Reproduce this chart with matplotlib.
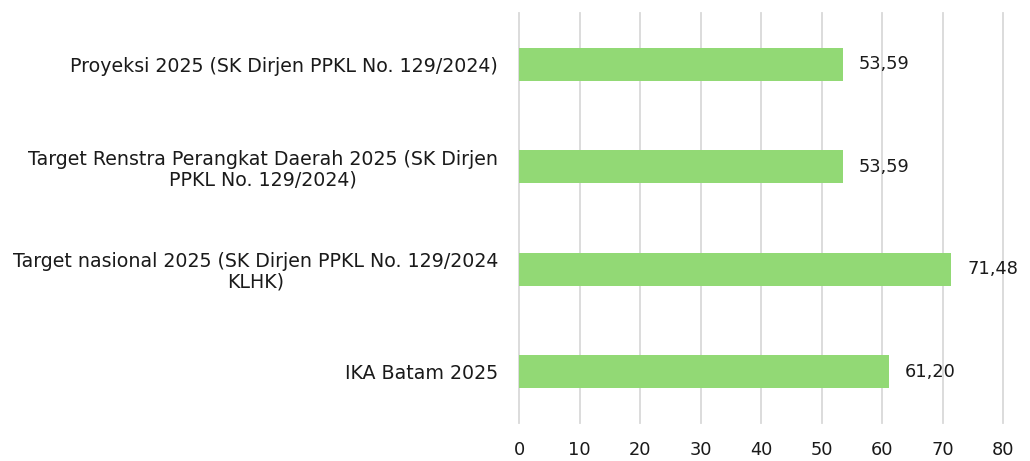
import matplotlib
matplotlib.use("Agg")
import matplotlib.pyplot as plt

categories = [
    "IKA Batam 2025",
    "Target nasional 2025 (SK Dirjen PPKL No. 129/2024\nKLHK)",
    "Target Renstra Perangkat Daerah 2025 (SK Dirjen\nPPKL No. 129/2024)",
    "Proyeksi 2025 (SK Dirjen PPKL No. 129/2024)",
]
values = [61.20, 71.48, 53.59, 53.59]
xticks = [0, 10, 20, 30, 40, 50, 60, 70, 80]

plt.rcParams['font.family'] = ['DejaVu Sans']

fig = plt.figure(figsize=(10.30, 4.61), dpi=100)
ax = fig.add_axes([0.5039, 0.0824, 0.4699, 0.8894])

pos = list(range(len(categories)))
ax.barh(pos, values, height=0.32, color="#92D975", zorder=2)

for y, v in zip(pos, values):
    ax.text(v + 2.6, y, f"{v:.2f}".replace(".", ","), va="center", ha="left",
            fontsize=12.8, color="#1a1a1a")

ax.set_xlim(0, 80)
ax.set_ylim(-0.5, len(categories) - 0.5)
ax.set_xticks(xticks)
ax.set_xticklabels([str(t) for t in xticks], fontsize=12.8, color="#1a1a1a")
ax.set_yticks(pos)
ax.set_yticklabels(categories, fontsize=13.7, color="#1a1a1a", ha="right")
for lbl in ax.get_yticklabels():
    lbl.set_multialignment("center")
    lbl.set_linespacing(1.1)
ax.tick_params(axis="y", length=0, pad=15)
ax.tick_params(axis="x", length=0, pad=13)

ax.grid(axis="x", color="#D9D9D9", linewidth=1.3, zorder=0)
for gl in ax.get_xgridlines():
    gl.set_clip_on(False)
for s in ax.spines.values():
    s.set_visible(False)

fig.savefig("out.png", dpi=100)
